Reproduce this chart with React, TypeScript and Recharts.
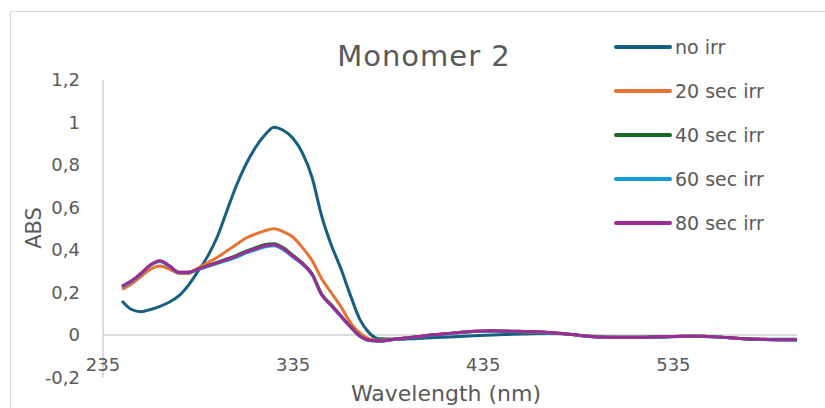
import { LineChart, Line, XAxis, YAxis, Legend, ReferenceLine } from "recharts";

const wavelengths = [
  245, 250, 255, 260, 265, 270, 275, 280, 285, 290, 295, 300, 305, 310, 315,
  320, 325, 330, 335, 340, 345, 350, 355, 360, 365, 370, 375, 380, 390, 400,
  410, 420, 430, 440, 450, 460, 470, 480, 490, 500, 510, 520, 530, 540, 550,
  560, 570, 580, 590, 600,
];

const noIrr = [
  0.16, 0.12, 0.11, 0.12, 0.135, 0.155, 0.185, 0.235, 0.3, 0.37, 0.46, 0.58,
  0.7, 0.8, 0.88, 0.94, 0.978, 0.962, 0.925, 0.855, 0.74, 0.56, 0.425, 0.315,
  0.19, 0.075, 0.01, -0.018, -0.02, -0.016, -0.012, -0.008, -0.004, 0.0, 0.003,
  0.006, 0.008, 0.004, -0.005, -0.01, -0.012, -0.012, -0.01, -0.006, -0.006,
  -0.01, -0.016, -0.02, -0.02, -0.02,
];

const sec20 = [
  0.215, 0.24, 0.275, 0.31, 0.325, 0.31, 0.29, 0.29, 0.315, 0.34, 0.365, 0.395,
  0.425, 0.455, 0.475, 0.49, 0.5, 0.485, 0.46, 0.41, 0.35, 0.265, 0.2, 0.135,
  0.06, 0.01, -0.018, -0.025, -0.018, -0.008, 0.002, 0.01, 0.016, 0.018, 0.016,
  0.014, 0.012, 0.004, -0.006, -0.01, -0.01, -0.01, -0.008, -0.006, -0.006,
  -0.01, -0.016, -0.02, -0.022, -0.022,
];

const sec40 = [
  0.228, 0.254, 0.29, 0.33, 0.348, 0.324, 0.295, 0.295, 0.31, 0.326, 0.342,
  0.358, 0.374, 0.394, 0.41, 0.425, 0.43, 0.41, 0.374, 0.338, 0.288, 0.193,
  0.143, 0.092, 0.041, -0.004, -0.025, -0.028, -0.018, -0.008, 0.002, 0.01,
  0.018, 0.02, 0.018, 0.016, 0.012, 0.004, -0.006, -0.01, -0.01, -0.01, -0.008,
  -0.006, -0.006, -0.01, -0.016, -0.02, -0.022, -0.022,
];

const sec60 = [
  0.226, 0.252, 0.288, 0.328, 0.346, 0.322, 0.293, 0.293, 0.308, 0.322, 0.336,
  0.35, 0.365, 0.385, 0.4, 0.414, 0.42, 0.4, 0.366, 0.332, 0.282, 0.188, 0.138,
  0.088, 0.039, -0.006, -0.026, -0.029, -0.019, -0.009, 0.001, 0.009, 0.017,
  0.019, 0.017, 0.015, 0.011, 0.003, -0.007, -0.011, -0.011, -0.011, -0.009,
  -0.007, -0.007, -0.011, -0.017, -0.021, -0.023, -0.023,
];

const sec80 = [
  0.23, 0.255, 0.29, 0.33, 0.35, 0.325, 0.295, 0.295, 0.31, 0.325, 0.34, 0.355,
  0.37, 0.39, 0.405, 0.42, 0.425, 0.405, 0.37, 0.335, 0.285, 0.19, 0.14, 0.09,
  0.04, -0.005, -0.025, -0.028, -0.018, -0.008, 0.002, 0.01, 0.018, 0.02,
  0.018, 0.016, 0.012, 0.004, -0.006, -0.01, -0.01, -0.01, -0.008, -0.006,
  -0.006, -0.01, -0.016, -0.02, -0.022, -0.022,
];

const xTicks = [235, 335, 435, 535];
const yTicks = [-0.2, 0, 0.2, 0.4, 0.6, 0.8, 1, 1.2];

const series = [
  { key: "noIrr", name: "no irr", color: "#156082" },
  { key: "sec20", name: "20 sec irr", color: "#E97132" },
  { key: "sec40", name: "40 sec irr", color: "#196B24" },
  { key: "sec60", name: "60 sec irr", color: "#0F9ED5" },
  { key: "sec80", name: "80 sec irr", color: "#A02B93" },
];

const data = wavelengths.map((nm, i) => ({
  nm,
  noIrr: noIrr[i],
  sec20: sec20[i],
  sec40: sec40[i],
  sec60: sec60[i],
  sec80: sec80[i],
}));

const FONT = "'DejaVu Sans', sans-serif";
const TEXT = "#595959";
const AXIS = "#D0D0D0";

function fmt(v: number) {
  return String(Math.round(v * 10) / 10).replace(".", ",");
}

function XTick(props: any) {
  const { x, y, payload } = props;
  return (
    <text
      x={x}
      y={y - 21}
      textAnchor="middle"
      dominantBaseline="central"
      fill={TEXT}
      fontSize={18}
      fontFamily={FONT}
    >
      {payload.value}
    </text>
  );
}

// keep the legend in series order (recharts sorts by name otherwise)
function renderLegend(props: any) {
  const order = series.map((s) => s.name);
  const items = [...props.payload].sort(
    (a: any, b: any) => order.indexOf(a.value) - order.indexOf(b.value)
  );
  return (
    <div style={{ fontFamily: FONT }}>
      {items.map((entry: any) => (
        <div
          key={entry.value}
          style={{ display: "flex", alignItems: "center", height: 44 }}
        >
          <svg width={58} height={6}>
            <line
              x1={2}
              y1={3}
              x2={56}
              y2={3}
              stroke={entry.color}
              strokeWidth={4}
              strokeLinecap="round"
            />
          </svg>
          <span style={{ marginLeft: 3, fontSize: 19, color: TEXT }}>
            {entry.value}
          </span>
        </div>
      ))}
    </div>
  );
}

const centered = (left: number, top: number, extra = "") => ({
  position: "absolute" as const,
  left,
  top,
  transform: `translate(-50%, -50%) ${extra}`,
  whiteSpace: "nowrap" as const,
  color: TEXT,
  fontFamily: FONT,
});

export default function App() {
  return (
    <div
      style={{
        position: "absolute",
        left: 0,
        top: 0,
        width: 825,
        height: 408,
        overflow: "hidden",
        background: "#fff",
      }}
    >
      <div
        style={{
          position: "absolute",
          left: 10,
          top: 11,
          width: 840,
          height: 420,
          border: "1px solid #D9D9D9",
        }}
      />
      <LineChart
        width={825}
        height={408}
        data={data}
        margin={{ top: 80, right: 28, bottom: 0, left: 0 }}
      >
        <XAxis
          dataKey="nm"
          type="number"
          domain={[235, 600]}
          ticks={xTicks}
          axisLine={false}
          tickLine={false}
          height={30.5}
          tick={<XTick />}
          interval={0}
        />
        <YAxis
          domain={[-0.2, 1.2]}
          ticks={yTicks}
          width={103}
          axisLine={{ stroke: AXIS, strokeWidth: 1.5 }}
          tickLine={false}
          tickMargin={17}
          tickFormatter={fmt}
          tick={{ fill: TEXT, fontSize: 18, fontFamily: FONT }}
          interval={0}
        />
        <ReferenceLine y={0} stroke={AXIS} strokeWidth={1.5} />
        {series.map((s) => (
          <Line
            key={s.key}
            dataKey={s.key}
            name={s.name}
            type="monotone"
            stroke={s.color}
            strokeWidth={3}
            dot={false}
            isAnimationActive={false}
          />
        ))}
        <Legend
          layout="vertical"
          align="center"
          verticalAlign="middle"
          content={renderLegend}
          wrapperStyle={{ left: 614, top: 25, width: 210, height: "auto" }}
        />
      </LineChart>
      <div style={{ ...centered(424, 56), fontSize: 29, letterSpacing: 1 }}>
        Monomer 2
      </div>
      <div style={{ ...centered(34, 228, "rotate(-90deg)"), fontSize: 21 }}>
        ABS
      </div>
      <div style={{ ...centered(446, 393), fontSize: 22 }}>Wavelength (nm)</div>
    </div>
  );
}
